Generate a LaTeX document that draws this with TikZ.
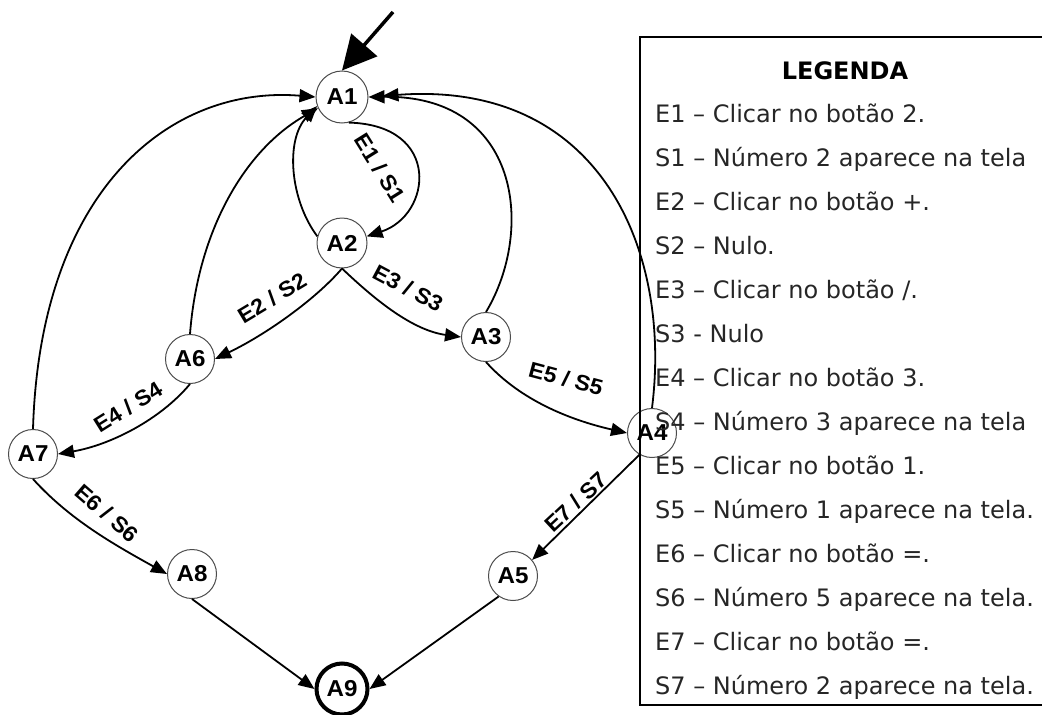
\documentclass[tikz,border=0pt]{standalone}
\usepackage{fontspec}
\setmainfont{DejaVu Sans}
\newfontfamily\lblfont{Liberation Sans}[FakeStretch=1.05]
\usetikzlibrary{arrows.meta}
\begin{document}
\begin{tikzpicture}[x=1pt,y=1pt,
  state/.style={circle,draw=black!70,line width=1pt,fill=white,
    minimum size=49pt,inner sep=0pt,
    font=\lblfont\bfseries\fontsize{23}{23}\selectfont},
  final/.style={state,draw=black,line width=4pt,minimum size=51pt},
  trans/.style={line width=1.8pt,-{Triangle[length=16pt,width=13pt]}},
  elabel/.style={font=\lblfont\bfseries\fontsize{22}{22}\selectfont,inner sep=1pt},
  legtext/.style={anchor=base west,inner sep=0pt,text=black!85,
    font=\fontsize{24}{24}\selectfont},
  legtitle/.style={anchor=base,inner sep=0pt,
    font=\bfseries\fontsize{24}{24}\selectfont}
]
\useasboundingbox (0,0) rectangle (1042,-715);

% states
\node[state,minimum size=52pt] (A1) at (342,-97) {A1};
\node[state,minimum size=50pt] (A2) at (342,-243) {A2};
\node[state] (A3) at (486,-337) {A3};
\node[state] (A4) at (652,-433) {A4};
\node[state] (A5) at (513,-576) {A5};
\node[state] (A6) at (190,-359) {A6};
\node[state] (A7) at (33,-454) {A7};
\node[state] (A8) at (192,-574) {A8};
\node[final] (A9) at (342,-689) {A9};

% initial arrow
\coordinate (start) at (393,-12);
\draw[line width=3.5pt,-{Triangle[length=34pt,width=34pt]}] (start) -- (A1.north);

% transitions
\draw[trans] (A1.285) .. controls (442,-125) and (432,-215) .. (A2.15);
\draw[trans] (A2.165) .. controls (290,-200) and (285,-140) .. (A1.200);
\draw[trans] (A7.north) .. controls (40,-190) and (170,-85) .. (A1.west);
\draw[trans] (A6.north) .. controls (198,-230) and (245,-150) .. (A1.205);
\draw[trans] (A3.north) .. controls (535,-230) and (520,-95) .. (A1.east);
\draw[trans,shorten >=14pt] (A4.north) .. controls (672,-250) and (600,-80) .. (A1.east);
\draw[trans] (A2.south) .. controls (315,-300) and (265,-335) .. (A6.east);
\draw[trans] (A2.south) .. controls (370,-295) and (410,-330) .. (A3.west);
\draw[trans] (A6.south) .. controls (160,-420) and (110,-445) .. (A7.east);
\draw[trans] (A3.south) .. controls (520,-400) and (570,-420) .. (A4.west);
\draw[trans] (A7.south) .. controls (70,-520) and (115,-545) .. (A8.west);
\draw[trans] (A4.240) -- (A5.40);
\draw[trans] (A8.south) -- (A9.west);
\draw[trans] (A5.235) -- (A9.east);

% transition labels
\node[elabel,rotate=-58] (l1) at (380,-168) {E1 / S1};
\node[elabel,rotate=31] (l2) at (272,-298) {E2 / S2};
\node[elabel,rotate=-28] (l3) at (408,-288) {E3 / S3};
\node[elabel,rotate=32] (l4) at (128,-407) {E4 / S4};
\node[elabel,rotate=-15] (l5) at (566,-379) {E5 / S5};
\node[elabel,rotate=-41] (l6) at (107,-513) {E6 / S6};
\node[elabel,rotate=43] (l7) at (576,-502) {E7 / S7};

% legend
\draw[line width=2.5pt] (1046,-37) -- (640,-37) -- (640,-705) -- (1046,-705);
\node[legtitle] (ltitle) at (845,-79) {LEGENDA};
\node[legtext] (g1) at (655,-122.7) {E1 – Clicar no botão 2.};
\node[legtext] (g2) at (655,-166.7) {S1 – Número 2 aparece na tela};
\node[legtext] (g3) at (655,-210.7) {E2 – Clicar no botão +.};
\node[legtext] (g4) at (655,-254.7) {S2 – Nulo.};
\node[legtext] (g5) at (655,-298.7) {E3 – Clicar no botão /.};
\node[legtext] (g6) at (655,-342.7) {S3 - Nulo};
\node[legtext] (g7) at (655,-386.7) {E4 – Clicar no botão 3.};
\node[legtext] (g8) at (655,-430.7) {S4 – Número 3 aparece na tela};
\node[legtext] (g9) at (655,-474.7) {E5 – Clicar no botão 1.};
\node[legtext] (g10) at (655,-518.7) {S5 – Número 1 aparece na tela.};
\node[legtext] (g11) at (655,-562.7) {E6 – Clicar no botão =.};
\node[legtext] (g12) at (655,-606.7) {S6 – Número 5 aparece na tela.};
\node[legtext] (g13) at (655,-650.7) {E7 – Clicar no botão =.};
\node[legtext] (g14) at (655,-694.7) {S7 – Número 2 aparece na tela.};
\end{tikzpicture}
\end{document}
